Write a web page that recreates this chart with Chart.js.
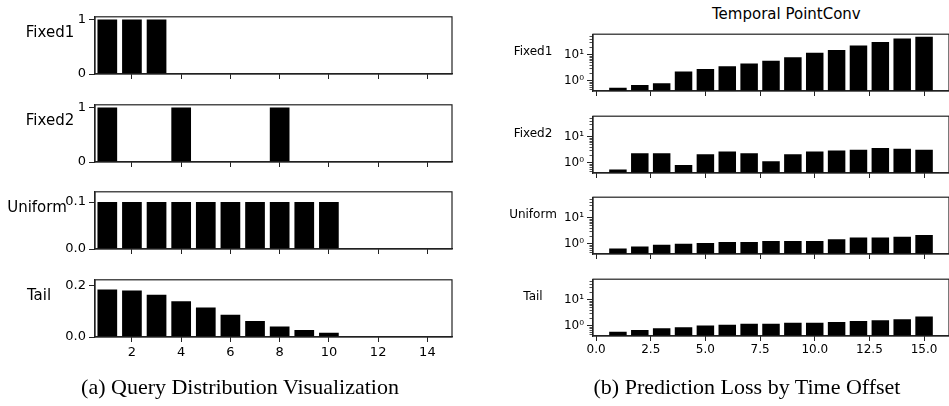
<!DOCTYPE html>
<html lang="en">
<head>
  <meta charset="UTF-8">
  <title>Query Distribution and Prediction Loss</title>
  <script src="https://cdn.jsdelivr.net/npm/chart.js"></script>
  <style>
    body { margin: 0; background: #fff; }
    #stage { position: relative; width: 949px; height: 406px; overflow: hidden; background: #fff; }
    #stage canvas { position: absolute; }
    .lbl { position: absolute; font-family: "DejaVu Sans"; color: #000; white-space: nowrap; text-align: center; }
    .cap { position: absolute; font-family: "Liberation Serif"; font-size: 22px; color: #000; white-space: nowrap; text-align: center; }
  </style>
</head>
<body>
  <div id="stage"></div>

  <script>
    // left panel: query distribution
    const queryOffsets = [1, 2, 3, 4, 5, 6, 7, 8, 9, 10];
    const queryFixed1 = [1, 1, 1, 0, 0, 0, 0, 0, 0, 0];
    const queryFixed2 = [1, 0, 0, 1, 0, 0, 0, 1, 0, 0];
    const queryUniform = [0.1, 0.1, 0.1, 0.1, 0.1, 0.1, 0.1, 0.1, 0.1, 0.1];
    const queryTail = [0.184, 0.180, 0.163, 0.138, 0.114, 0.086, 0.062, 0.041, 0.027, 0.016];
    const leftXTicks = [2, 4, 6, 8, 10, 12, 14];

    // right panel: prediction loss (log scale)
    const timeOffsets = [1, 2, 3, 4, 5, 6, 7, 8, 9, 10, 11, 12, 13, 14, 15];
    const lossFixed1 = [0.55, 0.69, 0.81, 2.25, 2.85, 3.6, 4.56, 5.77, 7.9, 11.7, 14.8, 21.9, 30, 41, 48];
    const lossFixed2 = [0.56, 2.31, 2.31, 0.83, 2.14, 2.7, 2.31, 1.14, 2.14, 2.7, 2.92, 3.16, 3.7, 3.42, 3.16];
    const lossUniform = [0.67, 0.79, 0.92, 1.0, 1.08, 1.17, 1.17, 1.27, 1.27, 1.27, 1.48, 1.73, 1.73, 1.87, 2.19];
    const lossTail = [0.59, 0.69, 0.81, 0.88, 1.03, 1.11, 1.2, 1.2, 1.3, 1.3, 1.41, 1.52, 1.64, 1.78, 2.25];
    const rightXTicks = [0, 2.5, 5, 7.5, 10, 12.5, 15];
    const logMajor = [1, 10];
    const logMinor = [0.5, 0.6, 0.7, 0.8, 0.9, 2, 3, 4, 5, 6, 7, 8, 9, 20, 30, 40, 50];
    const supDigits = { 0: '\u2070', 1: '\u00b9' };

    Chart.defaults.font.family = 'DejaVu Sans';
    Chart.defaults.color = '#000';

    const stage = document.getElementById('stage');

    // box around the plot + minor log ticks
    const framePlugin = {
      id: 'frame',
      afterDraw(chart, args, opts) {
        const a = chart.chartArea, c = chart.ctx;
        c.save();
        c.strokeStyle = '#222';
        c.lineWidth = 1.2;
        c.strokeRect(a.left, a.top, a.right - a.left, a.bottom - a.top);
        if (opts.minor) {
          const y = chart.scales.y;
          c.lineWidth = 0.8;
          opts.minor.forEach(v => {
            const py = Math.round(y.getPixelForValue(v)) + 0.5;
            c.beginPath();
            c.moveTo(a.left - 3.5, py);
            c.lineTo(a.left, py);
            c.stroke();
          });
        }
        c.restore();
      }
    };

    function subplot(o) {
      const L = 70, T = 4, R = 4, B = 34;
      const cv = document.createElement('canvas');
      cv.width = o.w + L + R;
      cv.height = o.h + T + B;
      cv.style.left = (o.x - L) + 'px';
      cv.style.top = (o.y - T) + 'px';
      stage.appendChild(cv);

      new Chart(cv, {
        type: 'bar',
        data: {
          datasets: [{
            data: o.xs.map((x, i) => ({ x: x, y: o.ys[i] })),
            backgroundColor: '#000',
            borderWidth: 0,
            barPercentage: 0.8,
            categoryPercentage: 1
          }]
        },
        options: {
          responsive: false,
          animation: false,
          layout: { autoPadding: false, padding: { left: 0, top: T, right: R, bottom: 0 } },
          plugins: { legend: { display: false }, tooltip: { enabled: false }, frame: { minor: o.minor } },
          scales: {
            x: {
              type: 'linear',
              min: o.xMin,
              max: o.xMax,
              offset: false,
              afterBuildTicks: s => { s.ticks = o.xTicks.map(v => ({ value: v })); },
              afterFit: s => { s.height = B; },
              grid: { drawOnChartArea: false, drawTicks: true, tickLength: 5, tickColor: '#222', tickWidth: 1, offset: false },
              border: { display: true, color: '#222', width: 1.2 },
              ticks: {
                autoSkip: false, maxRotation: 0, padding: o.xPad,
                font: { size: o.xFont },
                callback: v => o.showX ? o.xFmt(v) : ''
              }
            },
            y: {
              type: o.log ? 'logarithmic' : 'linear',
              min: o.yMin,
              max: o.yMax,
              afterBuildTicks: s => { s.ticks = o.yTicks.map(v => ({ value: v })); },
              afterFit: s => { s.width = L; },
              grid: { drawOnChartArea: false, drawTicks: true, tickLength: 6, tickColor: '#222', tickWidth: 1 },
              border: { display: true, color: '#222', width: 1.2 },
              ticks: { padding: 3, font: { size: o.yFont }, callback: v => o.yFmt(v) }
            }
          }
        },
        plugins: [framePlugin]
      });
    }

    function label(text, cx, cy, size) {
      const d = document.createElement('div');
      d.className = 'lbl';
      d.textContent = text;
      d.style.fontSize = size + 'px';
      d.style.lineHeight = size + 'px';
      d.style.width = '120px';
      d.style.left = (cx - 60) + 'px';
      d.style.top = (cy - size / 2) + 'px';
      stage.appendChild(d);
    }

    function caption(text, cx, top) {
      const d = document.createElement('div');
      d.className = 'cap';
      d.textContent = text;
      d.style.width = '500px';
      d.style.left = (cx - 250) + 'px';
      d.style.top = top + 'px';
      stage.appendChild(d);
    }

    // left column
    const leftRows = [
      { name: 'Fixed1', ys: queryFixed1, y: 10, yMax: 1.05, yTicks: [0, 1], fmt: v => String(v), lx: 50 },
      { name: 'Fixed2', ys: queryFixed2, y: 98, yMax: 1.05, yTicks: [0, 1], fmt: v => String(v), lx: 50 },
      { name: 'Uniform', ys: queryUniform, y: 185, yMax: 0.122, yTicks: [0, 0.1], fmt: v => v.toFixed(1), lx: 37 },
      { name: 'Tail', ys: queryTail, y: 273, yMax: 0.221, yTicks: [0, 0.2], fmt: v => v.toFixed(1), lx: 39 }
    ];
    leftRows.forEach((r, i) => {
      subplot({
        x: 95, y: r.y, w: 357, h: 64,
        xs: queryOffsets, ys: r.ys,
        xMin: 0.5, xMax: 15, xTicks: leftXTicks, xFmt: v => String(v),
        showX: i === 3, xFont: 13, xPad: 3,
        yMin: 0, yMax: r.yMax, yTicks: r.yTicks, yFmt: r.fmt, yFont: 13
      });
      label(r.name, r.lx, r.y + 32 - 10, 15);
    });

    // right column
    const rightRows = [
      { name: 'Fixed1', ys: lossFixed1, y: 28 },
      { name: 'Fixed2', ys: lossFixed2, y: 110 },
      { name: 'Uniform', ys: lossUniform, y: 191 },
      { name: 'Tail', ys: lossTail, y: 273 }
    ];
    rightRows.forEach((r, i) => {
      subplot({
        x: 593, y: r.y, w: 356, h: 63,
        xs: timeOffsets, ys: r.ys,
        xMin: -0.14, xMax: 16.14, xTicks: rightXTicks, xFmt: v => v.toFixed(1),
        showX: i === 3, xFont: 12, xPad: 2,
        log: true, yMin: 0.41, yMax: 59.6, yTicks: logMajor,
        yFmt: v => '10' + supDigits[Math.round(Math.log10(v))], yFont: 12,
        minor: logMinor
      });
      label(r.name, 533, r.y + 31 - 8, 12);
    });

    label('Temporal PointConv', 772, 14, 15);

    caption('(a) Query Distribution Visualization', 240, 374);
    caption('(b) Prediction Loss by Time Offset', 747, 374);
  </script>
</body>
</html>
